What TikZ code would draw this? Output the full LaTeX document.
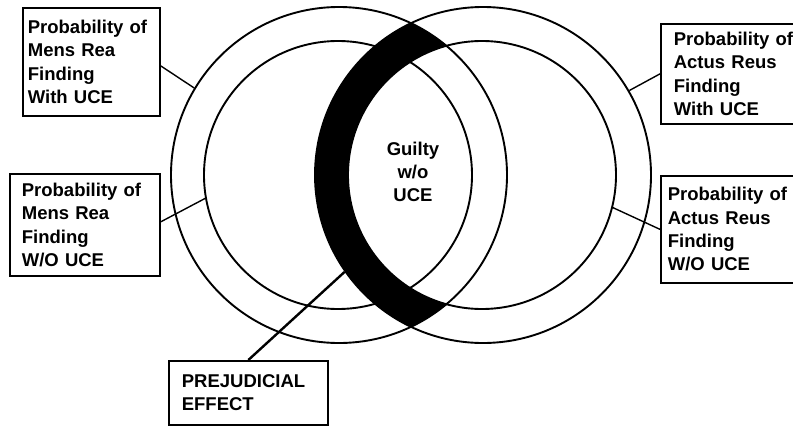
\documentclass[tikz,border=0pt]{standalone}
\usepackage{fontspec}
\setmainfont{Liberation Sans}
\begin{document}
\begin{tikzpicture}[x=1pt,y=-1pt,
  ring/.style={circle, draw, line width=1.9pt, inner sep=0pt},
  lbl/.style={draw, line width=1.7pt, rectangle, anchor=north west, align=left,
    font=\bfseries\fontsize{18.5}{23.3}\selectfont, inner ysep=3pt},
  lead/.style={line width=1.4pt},
  txt/.style={align=center, font=\bfseries\fontsize{18.5}{23.3}\selectfont}]
\clip (0,0) rectangle (793,426);

% black band: ring of the right pair, inside the left outer circle
\begin{scope}
  \clip (339,175) circle [radius=168pt];
  \fill[even odd rule] (483,175) circle [radius=168pt] (482,175) circle [radius=134pt];
\end{scope}

% the four circles
\node[ring, minimum size=336pt] (LO) at (339,175) {};
\node[ring, minimum size=268pt] (LI) at (338,175) {};
\node[ring, minimum size=336pt] (RO) at (483,175) {};
\node[ring, minimum size=268pt] (RI) at (482,175) {};

\node[txt] (guilty) at (413,172) {Guilty\\w/o\\UCE};

% label boxes
\node[lbl, minimum width=137pt, minimum height=108pt, inner xsep=5pt, text width=127pt]
  (mrw) at (22,7) {Probability of\\Mens Rea\\Finding\\With UCE};
\node[lbl, minimum width=150pt, minimum height=102pt, inner xsep=12pt, text width=126pt]
  (mrwo) at (9,173) {Probability of\\Mens Rea\\Finding\\W/O UCE};
\node[lbl, minimum width=150pt, minimum height=100pt, inner xsep=13pt, text width=124pt]
  (arw) at (660,23) {Probability of\\Actus Reus\\Finding\\With UCE};
\node[lbl, minimum width=150pt, minimum height=107pt, inner xsep=7pt, text width=136pt]
  (arwo) at (660,175) {Probability of\\Actus Reus\\Finding\\W/O UCE};
\node[lbl, minimum width=159pt, minimum height=64pt, inner xsep=13pt, text width=133pt]
  (pe) at (168,360) {PREJUDICIAL\\EFFECT};

% leader lines
\draw[lead] ([yshift=-4pt]mrw.east) -- (LO.149);
\draw[lead] ([yshift=3pt]mrwo.east) -- (LI.190.6);
\draw[lead] (arw.west) -- (RO.30.1);
\draw[lead] (arwo.west) -- (RI.-14.1);
\draw[line width=2.4pt] (pe.north) -- (RO.215);
\end{tikzpicture}
\end{document}
